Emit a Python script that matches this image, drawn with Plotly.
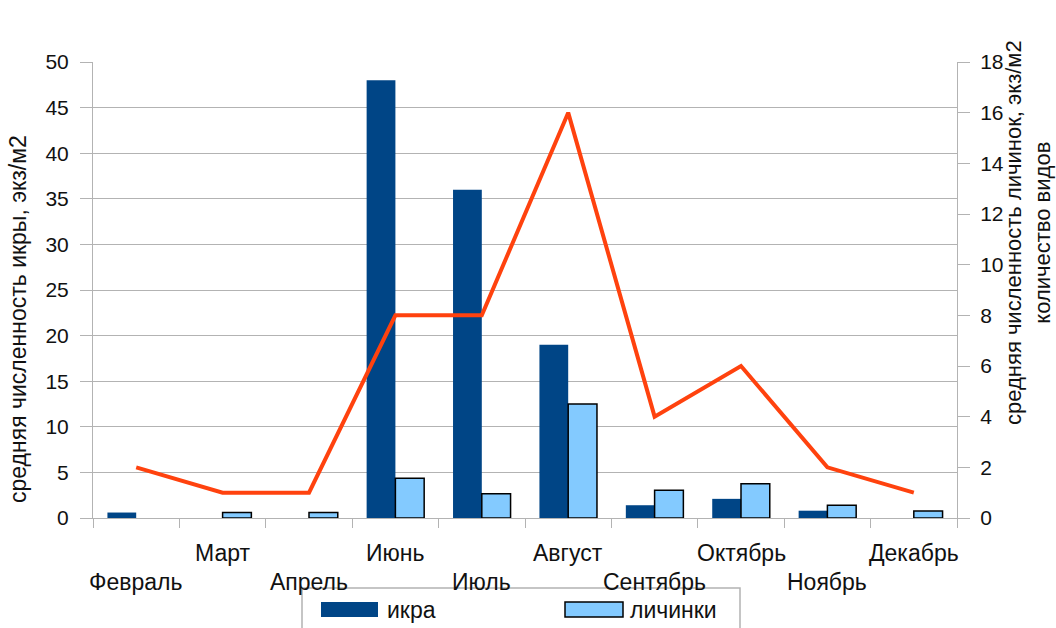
import plotly.graph_objects as go

months = ["Февраль", "Март", "Апрель", "Июнь", "Июль", "Август",
          "Сентябрь", "Октябрь", "Ноябрь", "Декабрь"]
ikra = [0.6, 0, 0, 48, 36, 19, 1.4, 2.1, 0.8, 0]
lichinki = [None, 0.22, 0.22, 1.57, 0.96, 4.5, 1.1, 1.35, 0.5, 0.28]
vidy = [2, 1, 1, 8, 8, 16, 4, 6, 2, 1]

left_ticks = list(range(0, 51, 5))
right_ticks = list(range(0, 19, 2))

W, H = 1056, 628
PL, PR, PT, PB = 93, 957, 62, 518

def px(x):
    return (x - PL) / (PR - PL)

def py(y):
    return (PB - y) / (PB - PT)

FONT = "Liberation Sans, Arial, sans-serif"
GRID = "#b3b3b3"
DARK = "#004586"
LIGHT = "#83caff"
RED = "#ff420e"
TXT = "#111111"

fig = go.Figure()
fig.add_trace(go.Bar(x=months, y=ikra, name="икра", marker_color=DARK,
                     marker_line_width=0, width=0.333, offset=-0.333,
                     yaxis="y", showlegend=False))
fig.add_trace(go.Bar(x=months, y=lichinki, name="личинки", marker_color=LIGHT,
                     marker_line=dict(color="#000000", width=1.5),
                     width=0.333, offset=0, yaxis="y2", showlegend=False))
fig.add_trace(go.Scatter(x=months, y=vidy, name="количество видов", mode="lines",
                         line=dict(color=RED, width=4), yaxis="y2",
                         showlegend=False))

annotations = []
# staggered category labels
for i, m in enumerate(months):
    row_y = 553 if i % 2 == 1 else 582
    annotations.append(dict(x=m, xref="x", y=py(row_y), yref="paper",
                            text=m, showarrow=False, xanchor="center",
                            yanchor="middle",
                            font=dict(family=FONT, size=23, color=TXT)))
# axis titles
annotations.append(dict(x=px(18), y=py(319), xref="paper", yref="paper",
                        text="средняя численность икры, экз/м2", textangle=-90,
                        showarrow=False, xanchor="center", yanchor="middle",
                        font=dict(family=FONT, size=23, color=TXT)))
annotations.append(dict(x=px(1028), y=py(233), xref="paper", yref="paper",
                        text="средняя численность личинок, экз/м2<br>количество видов",
                        textangle=-90, showarrow=False, xanchor="center",
                        yanchor="middle",
                        font=dict(family=FONT, size=22, color=TXT)))
# legend texts
annotations.append(dict(x=px(385), y=py(610), xref="paper", yref="paper",
                        text="икра", showarrow=False, xanchor="left",
                        yanchor="middle",
                        font=dict(family=FONT, size=23, color=TXT)))
annotations.append(dict(x=px(628), y=py(610), xref="paper", yref="paper",
                        text="личинки", showarrow=False, xanchor="left",
                        yanchor="middle",
                        font=dict(family=FONT, size=23, color=TXT)))

shapes = [
    dict(type="rect", xref="paper", yref="paper", x0=px(302), x1=px(740),
         y0=py(588), y1=py(660), line=dict(color=GRID, width=1.5),
         fillcolor="rgba(0,0,0,0)"),
    dict(type="rect", xref="paper", yref="paper", x0=px(321), x1=px(378),
         y0=py(602), y1=py(617), line=dict(width=0), fillcolor=DARK),
    dict(type="rect", xref="paper", yref="paper", x0=px(565), x1=px(623),
         y0=py(602), y1=py(617), line=dict(color="#000", width=1.5),
         fillcolor=LIGHT),
]

fig.update_layout(
    width=W, height=H,
    margin=dict(l=PL, r=W - PR, t=PT, b=H - PB, pad=0),
    paper_bgcolor="white", plot_bgcolor="white",
    font=dict(family=FONT, size=21, color=TXT),
    showlegend=False,
    xaxis=dict(type="category", range=[-0.5, 9.5], showticklabels=False,
               ticks="outside", tickson="boundaries", ticklen=9,
               tickcolor=GRID, showline=True, linecolor=GRID, linewidth=1,
               showgrid=False, zeroline=False),
    yaxis=dict(range=[0, 50], tickvals=left_ticks, ticks="outside", ticklen=12,
               tickcolor=GRID, showline=True, linecolor=GRID, linewidth=1,
               showgrid=True, gridcolor=GRID, gridwidth=1, zeroline=False,
               ticklabelstandoff=7, tickfont=dict(size=21)),
    yaxis2=dict(range=[0, 18], tickvals=right_ticks, overlaying="y", side="right",
                ticks="outside", ticklen=12, tickcolor=GRID, showline=True,
                linecolor=GRID, linewidth=1, showgrid=False, zeroline=False,
                ticklabelstandoff=6, tickfont=dict(size=21)),
    annotations=annotations,
    shapes=shapes,
)

fig.write_html("out.html",
               config={"displayModeBar": False},
               post_script="document.body.style.margin='0';"
                           "document.body.style.padding='0';"
                           "document.body.style.overflow='hidden';")
